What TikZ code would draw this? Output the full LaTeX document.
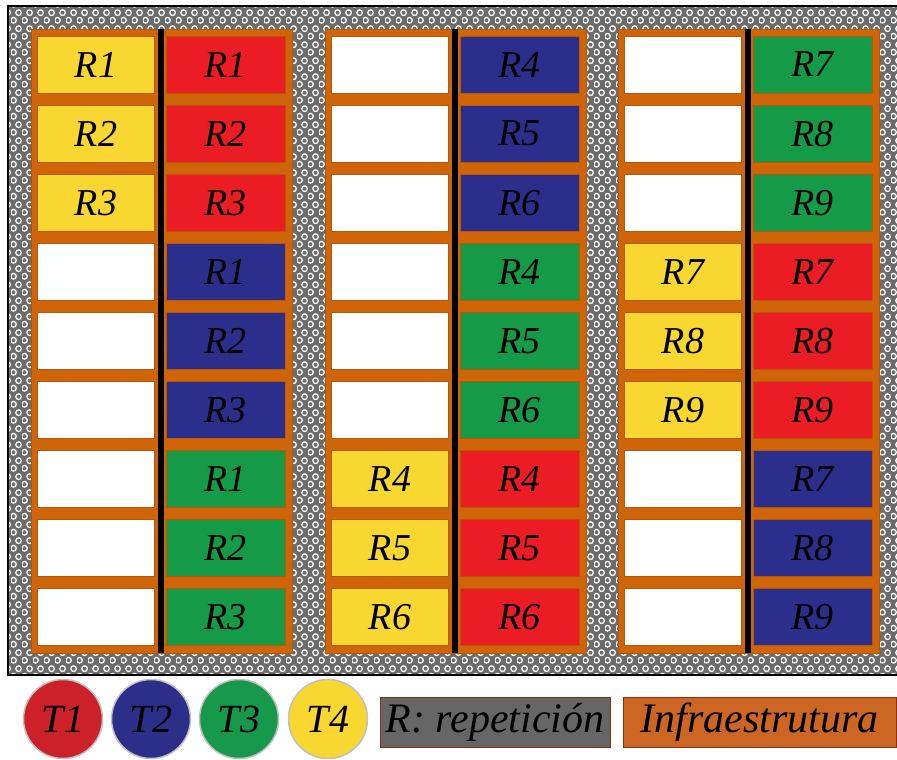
\documentclass[tikz,border=0pt]{standalone}
\usepackage{fontspec}
\setmainfont{Liberation Serif}
\usetikzlibrary{patterns}
\pgfdeclarepatternformonly{rings}{\pgfpointorigin}{\pgfpoint{11pt}{16pt}}{\pgfpoint{11pt}{16pt}}{%
  \pgfsetlinewidth{1.4pt}%
  \pgfpathcircle{\pgfpoint{2.75pt}{4pt}}{3pt}%
  \pgfpathcircle{\pgfpoint{8.25pt}{12pt}}{3pt}%
  \pgfusepath{stroke}}
\definecolor{cY}{HTML}{F8D731}
\definecolor{cR}{HTML}{EC1C24}
\definecolor{cB}{HTML}{2C2E8C}
\definecolor{cG}{HTML}{159A48}
\definecolor{cW}{HTML}{FFFFFF}
\definecolor{orangep}{HTML}{D06408}
\definecolor{orangeb}{HTML}{B55808}
\definecolor{grayp}{HTML}{6B6B6B}
\definecolor{tone}{HTML}{CC2129}
\definecolor{ttwo}{HTML}{2B2F8A}
\definecolor{tthree}{HTML}{16994A}
\definecolor{tfour}{HTML}{F8D731}
\definecolor{legbord}{HTML}{8B2E10}
\definecolor{infra}{HTML}{CC6622}
\definecolor{leggray}{HTML}{666666}
\tikzset{
  cellbox/.style={draw=orangeb, line width=0.8pt, inner sep=0pt, minimum height=57pt,
    font=\fontsize{38}{38}\selectfont\itshape},
  panelbox/.style={fill=orangep, draw=orangeb, line width=0.8pt, inner sep=0pt,
    minimum width=261pt, minimum height=624pt},
  tcirc/.style={circle, draw=black!25, line width=1.5pt, minimum size=79pt, inner sep=0pt,
    font=\fontsize{40}{40}\selectfont\itshape},
  legbox/.style={draw=legbord, line width=1pt, minimum height=50pt, inner sep=0pt,
    font=\fontsize{42}{42}\selectfont\itshape},
}
\begin{document}
\begin{tikzpicture}[x=1pt,y=-1pt]
\useasboundingbox (0,0) rectangle (897,760);
\fill[white] (0,0) rectangle (897,760);
% background with pattern
\fill[grayp] (8,6) rectangle (898,675);
\fill[pattern=rings, pattern color=white!95!gray] (8,6) rectangle (898,675);
\draw[black, line width=1.5pt] (8,6) rectangle (898,675);
% panels
\foreach \p/\x/\Llist/\Rlist in {
  1/31/{cY/R1,cY/R2,cY/R3,cW/{},cW/{},cW/{},cW/{},cW/{},cW/{}}/{cR/R1,cR/R2,cR/R3,cB/R1,cB/R2,cB/R3,cG/R1,cG/R2,cG/R3},
  2/325/{cW/{},cW/{},cW/{},cW/{},cW/{},cW/{},cY/R4,cY/R5,cY/R6}/{cB/R4,cB/R5,cB/R6,cG/R4,cG/R5,cG/R6,cR/R4,cR/R5,cR/R6},
  3/618/{cW/{},cW/{},cW/{},cY/R7,cY/R8,cY/R9,cW/{},cW/{},cW/{}}/{cG/R7,cG/R8,cG/R9,cR/R7,cR/R8,cR/R9,cB/R7,cB/R8,cB/R9}}{
  \node[panelbox] (panel\p) at (\x+130.5,341) {};
  \coordinate (dtop\p) at (\x+130,29);
  \coordinate (dbot\p) at (\x+130,653);
  \draw[black, line width=6pt] (dtop\p) -- (dbot\p);
  \foreach [count=\i] \c/\t in \Llist {
    \node[cellbox, fill=\c, minimum width=117pt] (p\p l\i) at (\x+65,{36+69.1*(\i-1)+28.5}) {\t};
  }
  \foreach [count=\i] \c/\t in \Rlist {
    \node[cellbox, fill=\c, minimum width=119pt] (p\p r\i) at (\x+194.5,{36+69.1*(\i-1)+28.5}) {\t};
  }
}
% legend
\node[tcirc, fill=tone] (t1) at (63,719) {T1};
\node[tcirc, fill=ttwo] (t2) at (151,719) {T2};
\node[tcirc, fill=tthree] (t3) at (239,719) {T3};
\node[tcirc, fill=tfour] (t4) at (328,719) {T4};
\node[legbox, fill=leggray, minimum width=230pt] (rep) at (495,722) {R: repetición};
\node[legbox, fill=infra, minimum width=273pt] (inf) at (759.5,722) {Infraestrutura};
\end{tikzpicture}
\end{document}
